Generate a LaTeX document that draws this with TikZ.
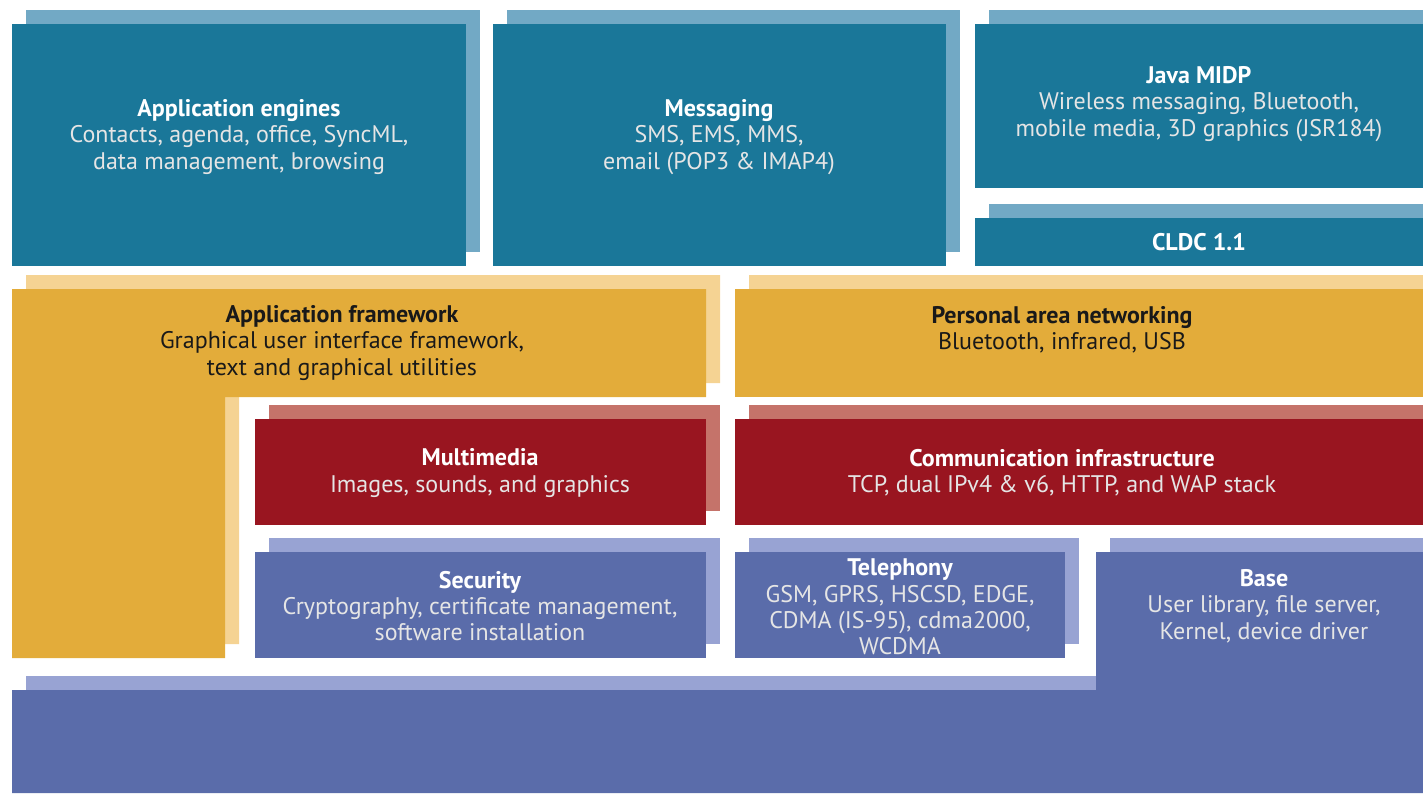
\documentclass[tikz,border=0pt]{standalone}
\usepackage{fontspec}
\setmainfont{PT Sans}
\usepackage{tikz}
\definecolor{tealDark}{RGB}{26,119,153}
\definecolor{tealLight}{RGB}{114,169,197}
\definecolor{ochreDark}{RGB}{227,172,58}
\definecolor{ochreLight}{RGB}{245,211,147}
\definecolor{wineDark}{RGB}{153,21,32}
\definecolor{wineLight}{RGB}{197,115,106}
\definecolor{slateDark}{RGB}{90,108,170}
\definecolor{slateLight}{RGB}{152,163,211}
\tikzset{
  back/.style={shift={(14,-14)}},
  layertext/.style={align=center, inner sep=0pt, font=\fontsize{12}{13.2}\selectfont},
  onDark/.style={layertext, text=white!90!black},
  onLight/.style={layertext, text=black!90}
}

\begin{document}
\begin{tikzpicture}[x=0.5pt, y=-0.5pt]
	\useasboundingbox (0,0) rectangle (1423,793);
	% application layer
	\fill[tealLight, back] (12,24) rectangle (466,266);
	\fill[tealDark] (12,24) rectangle (466,266);
	\fill[tealLight, back] (493,24) rectangle (946,266);
	\fill[tealDark] (493,24) rectangle (946,266);
	\fill[tealLight, back] (975,24) rectangle (1423,188);
	\fill[tealDark] (975,24) rectangle (1423,188);
	\fill[tealLight, back] (975,218) rectangle (1423,266);
	\fill[tealDark] (975,218) rectangle (1423,266);
	\node[onDark] (engines) at (239,137) {\textbf{\color{white}Application engines}\\Contacts, agenda, office, SyncML,\\data management, browsing};
	\node[onDark] (messaging) at (719,137) {\textbf{\color{white}Messaging}\\SMS, EMS, MMS,\\email (POP3 \& IMAP4)};
	\node[onDark] (midp) at (1199,104) {\textbf{\color{white}Java MIDP}\\Wireless messaging, Bluetooth,\\mobile media, 3D graphics (JSR184)};
	\node[onDark] (cldc) at (1199,242) {\textbf{\color{white}CLDC 1.1}};

	% framework layer
	\fill[ochreLight, back] (12,289) -- (706,289) -- (706,397) -- (225,397) -- (225,658) -- (12,658) -- cycle;
	\fill[ochreDark] (12,289) -- (706,289) -- (706,397) -- (225,397) -- (225,658) -- (12,658) -- cycle;
	\fill[ochreLight, back] (735,289) rectangle (1423,397);
	\fill[ochreDark] (735,289) rectangle (1423,397);
	\node[onLight] (framework) at (342,343) {\textbf{Application framework}\\Graphical user interface framework,\\text and graphical utilities};
	\node[onLight] (pan) at (1062,330) {\textbf{Personal area networking}\\Bluetooth, infrared, USB};

	% middleware layer
	\fill[wineLight, back] (255,419) rectangle (706,525);
	\fill[wineDark] (255,419) rectangle (706,525);
	\fill[wineLight, back] (735,419) rectangle (1423,525);
	\fill[wineDark] (735,419) rectangle (1423,525);
	\node[onDark] (multimedia) at (480,473) {\textbf{\color{white}Multimedia}\\Images, sounds, and graphics};
	\node[onDark] (comms) at (1062,473) {\textbf{\color{white}Communication infrastructure}\\TCP, dual IPv4 \& v6, HTTP, and WAP stack};

	% base layer
	\fill[slateLight, back] (255,552) rectangle (706,658);
	\fill[slateDark] (255,552) rectangle (706,658);
	\fill[slateLight, back] (735,552) rectangle (1065,658);
	\fill[slateDark] (735,552) rectangle (1065,658);
	\fill[slateLight, back] (1096,552) -- (1423,552) -- (1423,793) -- (12,793) -- (12,690) -- (1096,690) -- cycle;
	\fill[slateDark] (1096,552) -- (1423,552) -- (1423,793) -- (12,793) -- (12,690) -- (1096,690) -- cycle;
	\node[onDark] (security) at (480,606) {\textbf{\color{white}Security}\\Cryptography, certificate management,\\software installation};
	\node[onDark] (telephony) at (900,607) {\textbf{\color{white}Telephony}\\GSM, GPRS, HSCSD, EDGE,\\CDMA (IS-95), cdma2000,\\WCDMA};
	\node[onDark] (base) at (1264,606) {\textbf{\color{white}Base}\\User library, file server,\\Kernel, device driver};
\end{tikzpicture}
\end{document}
